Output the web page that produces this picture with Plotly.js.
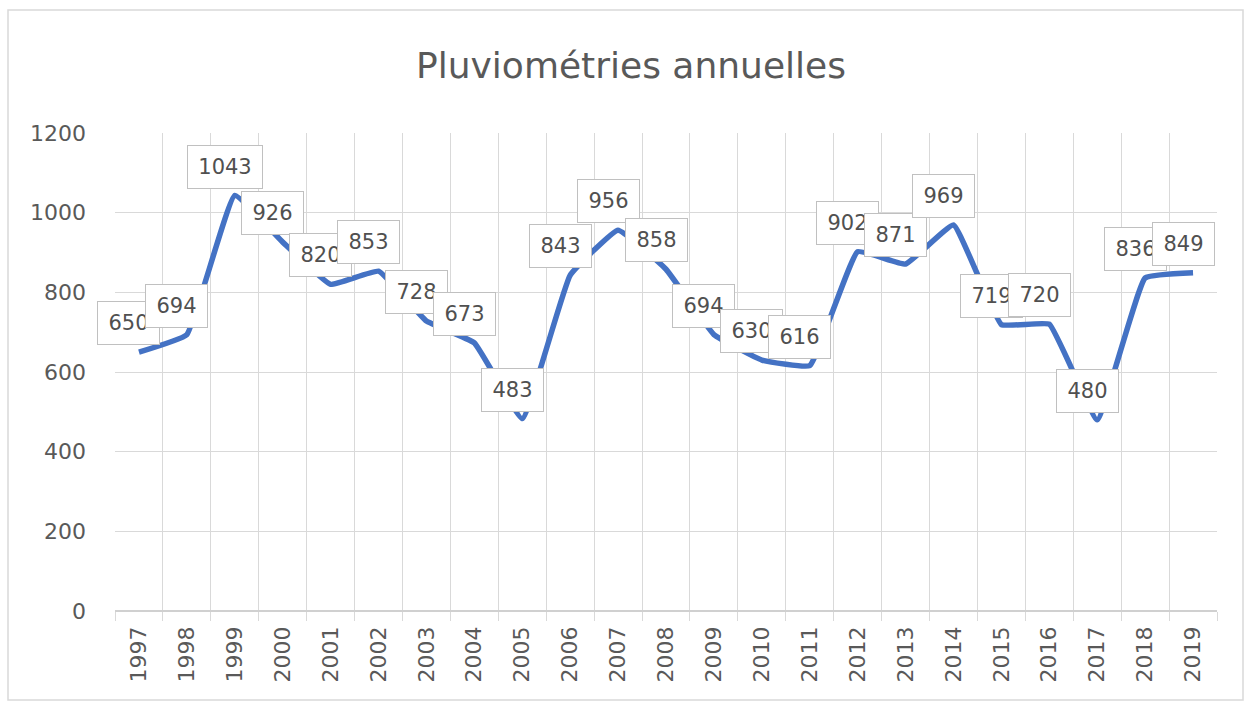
<!DOCTYPE html>
<html>
<head>
<meta charset="utf-8">
<script src="https://cdn.plot.ly/plotly-3.0.1.min.js"></script>
<style>
html,body{margin:0;padding:0;background:#fff;}
#chart{width:1254px;height:702px;}
</style>
</head>
<body>
<div id="chart"></div>
<script>
const years = ["1997","1998","1999","2000","2001","2002","2003","2004","2005","2006","2007","2008","2009","2010","2011","2012","2013","2014","2015","2016","2017","2018","2019"];
const rainfall = [650,694,1043,926,820,853,728,673,483,843,956,858,694,630,616,902,871,969,719,720,480,836,849];
const yTicks = [0,200,400,600,800,1000,1200];
const chartTitle = "Pluviométries annuelles";

const font = "DejaVu Sans, Verdana, sans-serif";

const annotations = years.map((y, i) => ({
  x: i, y: rainfall[i], xref: 'x', yref: 'y',
  text: String(rainfall[i]),
  showarrow: false,
  xshift: -10, yshift: 29,
  bgcolor: '#ffffff', bordercolor: '#c0c0c0', borderwidth: 1,
  borderpad: 7,
  width: String(rainfall[i]).length * 13 + 8, height: 28,
  font: {family: font, size: 21, color: '#505050'}
}));

const trace = {
  x: years, y: rainfall, type: 'scatter', mode: 'lines',
  line: {color: '#4472C4', width: 5.5, shape: 'spline', smoothing: 0.3},
  hoverinfo: 'x+y'
};

const layout = {
  width: 1254, height: 702,
  margin: {l: 115, r: 37, t: 133, b: 91, pad: 0},
  paper_bgcolor: '#ffffff', plot_bgcolor: '#ffffff',
  showlegend: false,
  title: {text: chartTitle, x: 631/1254, xref: 'container', xanchor: 'center', y: 1 - 65/702, yref: 'container', yanchor: 'middle',
          font: {family: font, size: 36, color: '#595959'}},
  xaxis: {type: 'category', categoryarray: years, range: [-0.5, years.length - 0.5], autorange: false,
          tickson: 'boundaries', showgrid: true, gridcolor: '#d9d9d9', gridwidth: 1,
          ticks: 'outside', ticklen: 9, tickcolor: '#d9d9d9', tickangle: -90,
          ticklabelstandoff: 10,
          showline: false, zeroline: false,
          tickfont: {family: font, size: 22, color: '#595959'}, fixedrange: true},
  yaxis: {range: [0, 1200], autorange: false, tickvals: yTicks, ticktext: yTicks.map(String), showgrid: true, gridcolor: '#d9d9d9', gridwidth: 1,
          zeroline: true, zerolinecolor: '#d0d0d0', zerolinewidth: 2, showline: false, ticks: '',
          ticklabelstandoff: 28,
          tickfont: {family: font, size: 22, color: '#595959'}, fixedrange: true},
  annotations: annotations,
  shapes: [{type: 'rect', xref: 'paper', yref: 'paper',
            x0: (8-115)/1102, x1: (1243-115)/1102, y0: (611-700)/478, y1: (611-10)/478,
            line: {color: '#d9d9d9', width: 1.5}, layer: 'below'}]
};

Plotly.newPlot('chart', [trace], layout, {displayModeBar: false, staticPlot: true});
</script>
</body>
</html>
